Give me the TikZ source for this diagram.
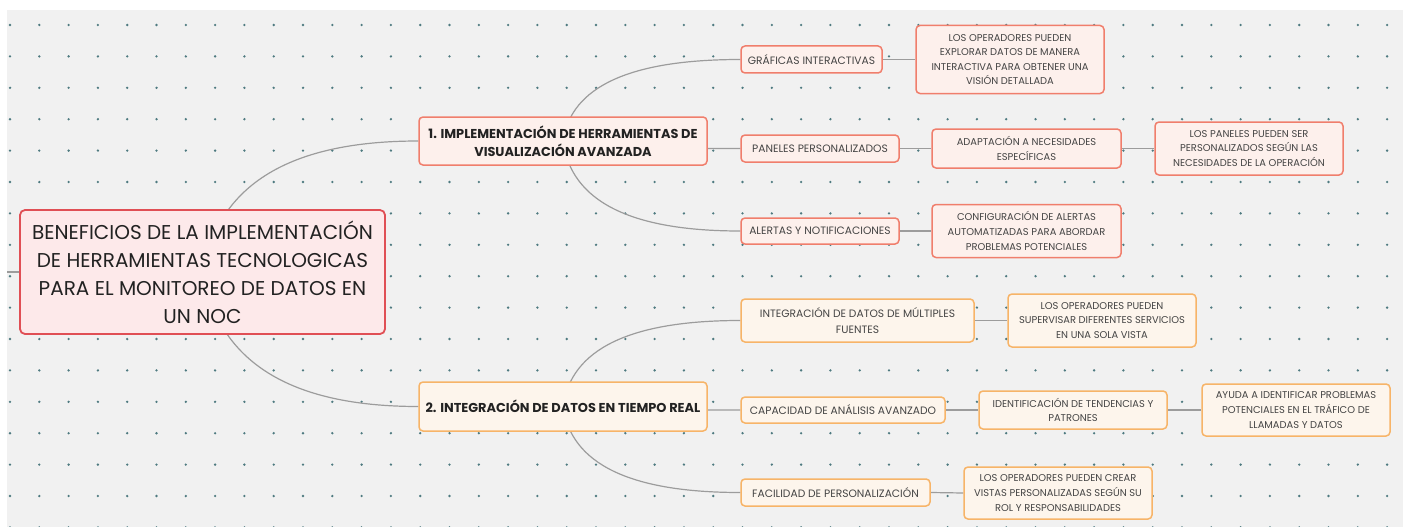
\documentclass[tikz,border=0pt]{standalone}
\usepackage{fontspec}
\setmainfont{Poppins}
\usetikzlibrary{calc}
\pgfdeclarelayer{background}
\pgfsetlayers{background,main}

\definecolor{canvas}{HTML}{F1F1F1}
\definecolor{dotc}{HTML}{4E7A80}
\definecolor{wire}{HTML}{9C9C9C}
\definecolor{rootline}{HTML}{E04F55}
\definecolor{rootfill}{HTML}{FDE9EA}
\definecolor{redline}{HTML}{F07E6C}
\definecolor{redfill}{HTML}{FDF0EC}
\definecolor{orline}{HTML}{F7B468}
\definecolor{orfill}{HTML}{FDF5EC}
\definecolor{inkdark}{HTML}{222222}
\definecolor{inkmid}{HTML}{444444}

\tikzset{
  box/.style={rounded corners=4pt, align=center, inner sep=0pt, line width=1.5pt},
  rootbox/.style={box, draw=rootline, fill=rootfill, line width=1.8pt, rounded corners=5pt,
    text=inkdark, font=\fontsize{20}{28}\selectfont},
  mainred/.style={box, draw=redline, fill=redfill, text=inkdark, font=\fontsize{12.9}{17.5}\selectfont\bfseries},
  mainor/.style={box, draw=orline, fill=orfill, text=inkdark, font=\fontsize{12.9}{17.5}\selectfont\bfseries},
  subred/.style={box, draw=redline, fill=redfill, text=inkmid, font=\fontsize{10.7}{16}\selectfont},
  subor/.style={box, draw=orline, fill=orfill, text=inkmid, font=\fontsize{10.7}{16}\selectfont},
  leafred/.style={box, draw=redline, fill=redfill, text=inkmid, font=\fontsize{9.9}{14.6}\selectfont},
  leafor/.style={box, draw=orline, fill=orfill, text=inkmid, font=\fontsize{9.9}{14.6}\selectfont},
  conn/.style={draw=wire, line width=1.2pt},
  sz/.style 2 args={minimum width=#1, minimum height=#2},
}

\begin{document}
\begin{tikzpicture}[x=1pt, y=-1pt]
\useasboundingbox (0,0) rectangle (1408,527);

% central topic
\node[rootbox, sz={365pt}{124pt}] (root) at (202.5,272)
  {BENEFICIOS DE LA IMPLEMENTACIÓN\\DE HERRAMIENTAS TECNOLOGICAS\\PARA EL MONITOREO DE DATOS EN\\UN NOC};

% main branches
\node[mainred, sz={288pt}{48pt}] (n1) at (563,141)
  {1. IMPLEMENTACIÓN DE HERRAMIENTAS DE\\VISUALIZACIÓN AVANZADA};
\node[mainor, sz={288pt}{49pt}] (n2) at (563,406.5)
  {2. INTEGRACIÓN DE DATOS EN TIEMPO REAL};

% branch 1 subtopics
\node[subred, sz={141pt}{27pt}] (g1) at (811.5,59.5) {GRÁFICAS INTERACTIVAS};
\node[subred, sz={158pt}{27pt}] (p1) at (820,148.5) {PANELES PERSONALIZADOS};
\node[subred, sz={158pt}{26pt}] (a1) at (820,231) {ALERTAS Y NOTIFICACIONES};

\node[leafred, sz={188pt}{68pt}] (g3) at (1010,59.5)
  {LOS OPERADORES PUEDEN\\EXPLORAR DATOS DE MANERA\\INTERACTIVA PARA OBTENER UNA\\VISIÓN DETALLADA};
\node[leafred, sz={189pt}{39pt}] (p3a) at (1026.5,148.5)
  {ADAPTACIÓN A NECESIDADES\\ESPECÍFICAS};
\node[leafred, sz={188pt}{53pt}] (p3b) at (1249,148.5)
  {LOS PANELES PUEDEN SER\\PERSONALIZADOS SEGÚN LAS\\NECESIDADES DE LA OPERACIÓN};
\node[leafred, sz={189pt}{53pt}] (a3) at (1026.5,231)
  {CONFIGURACIÓN DE ALERTAS\\AUTOMATIZADAS PARA ABORDAR\\PROBLEMAS POTENCIALES};

% branch 2 subtopics
\node[subor, sz={233pt}{43pt}] (i2) at (857.5,320.5)
  {INTEGRACIÓN DE DATOS DE MÚLTIPLES\\FUENTES};
\node[subor, sz={204pt}{26pt}] (c2) at (843,410) {CAPACIDAD DE ANÁLISIS AVANZADO};
\node[subor, sz={189pt}{27pt}] (f2) at (835.5,492.5) {FACILIDAD DE PERSONALIZACIÓN};

\node[leafor, sz={188pt}{53pt}] (i3) at (1102,320.5)
  {LOS OPERADORES PUEDEN\\SUPERVISAR DIFERENTES SERVICIOS\\EN UNA SOLA VISTA};
\node[leafor, sz={188pt}{38pt}] (c3a) at (1073,410)
  {IDENTIFICACIÓN DE TENDENCIAS Y\\PATRONES};
\node[leafor, sz={188pt}{52pt}] (c3b) at (1296,410)
  {AYUDA A IDENTIFICAR PROBLEMAS\\POTENCIALES EN EL TRÁFICO DE\\LLAMADAS Y DATOS};
\node[leafor, sz={188pt}{52pt}] (f3) at (1058,493)
  {LOS OPERADORES PUEDEN CREAR\\VISTAS PERSONALIZADAS SEGÚN SU\\ROL Y RESPONSABILIDADES};

\coordinate (lstub) at (7,272);

\begin{pgfonlayer}{background}
  % canvas with dotted grid
  \fill[canvas] (7,10) rectangle (1403,527);
  \foreach \i in {0,...,47}
    \foreach \j in {0,...,16}
      \fill[dotc] ({10+29.3*\i},{25+31.4*\j}) circle (1.3);

  % connectors
  \draw[conn] (lstub) -- (root.west);
  \draw[conn] (root.center) .. controls +(16,-87.3) and +(-128.7,0) .. (n1.west);
  \draw[conn] (root.center) .. controls +(16,89.7) and +(-128.7,0) .. (n2.west);

  \draw[conn] (n1.center) .. controls +(8,-54.3) and +(-110.7,0) .. (g1.west);
  \draw[conn] (n1.center) .. controls +(8,5) and +(-110.7,0) .. (p1.west);
  \draw[conn] (n1.center) .. controls +(8,60) and +(-110.7,0) .. (a1.west);

  \draw[conn] (n2.center) .. controls +(8,-57.3) and +(-110.7,0) .. (i2.west);
  \draw[conn] (n2.center) .. controls +(8,2.3) and +(-110.7,0) .. (c2.west);
  \draw[conn] (n2.center) .. controls +(8,57.3) and +(-110.7,0) .. (f2.west);

  \draw[conn] (g1.east) -- (g3.west);
  \draw[conn] (p1.east) -- (p3a.west);
  \draw[conn] (p3a.east) -- (p3b.west);
  \draw[conn] (a1.east) -- (a3.west);
  \draw[conn] (i2.east) -- (i3.west);
  \draw[conn] (c2.east) -- (c3a.west);
  \draw[conn] (c3a.east) -- (c3b.west);
  \draw[conn] (f2.east) -- (f3.west);
\end{pgfonlayer}
\end{tikzpicture}
\end{document}
